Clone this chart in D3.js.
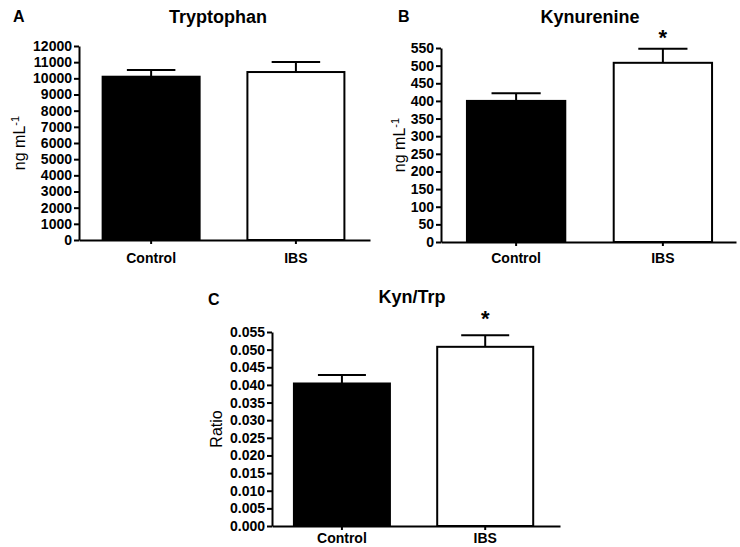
<!DOCTYPE html>
<html>
<head>
<meta charset="utf-8">
<script src="https://cdn.jsdelivr.net/npm/d3@7"></script>
<style>
  body { margin: 0; background: #fff; }
  text { font-family: Arial, "Liberation Sans", sans-serif; }
</style>
</head>
<body>
<div class="chart"></div>
<script>
const svgWidth = 740;
const svgHeight = 547;

// data
const groups = ["Control", "IBS"];

const trpMean = [10100, 10390];
const trpSem = [420, 620];
const trpTicks = d3.range(0, 12001, 1000);

const kynMean = [400, 508];
const kynSem = [22, 40];
const kynTicks = d3.range(0, 551, 50);

const ratioMean = [0.0404, 0.0508];
const ratioSem = [0.0024, 0.0033];
const ratioTicks = d3.range(0, 0.0551, 0.005);

const significant = [false, true];

// panel layout
const panels = [
  {
    letter: "A", title: "Tryptophan", ylabel: "ng mL", sup: "-1",
    mean: trpMean, sem: trpSem, ticks: trpTicks, fmt: d3.format("d"),
    left: 79, right: 370, top: 46, bottom: 240, align: 0.48,
    letterX: 13, letterY: 22, titleX: 218, titleY: 23, labelX: 25,
    catPad: 9, starGap: 5, showStar: false
  },
  {
    letter: "B", title: "Kynurenine", ylabel: "ng mL", sup: "-1",
    mean: kynMean, sem: kynSem, ticks: kynTicks, fmt: d3.format("d"),
    left: 441, right: 736, top: 48, bottom: 242, align: 0.52,
    letterX: 398, letterY: 22, titleX: 590, titleY: 23, labelX: 405,
    catPad: 7, starGap: 4, showStar: true
  },
  {
    letter: "C", title: "Kyn/Trp", ylabel: "Ratio", sup: null,
    mean: ratioMean, sem: ratioSem, ticks: ratioTicks, fmt: d3.format(".3f"),
    left: 272, right: 560, top: 332, bottom: 526, align: 0.45,
    letterX: 208, letterY: 305, titleX: 412, titleY: 303, labelX: 222,
    catPad: 3, starGap: 9, showStar: true
  }
];

const svg = d3.select(".chart")
  .append("svg")
  .attr("width", svgWidth)
  .attr("height", svgHeight);

panels.forEach(p => {
  const g = svg.append("g");

  const yScale = d3.scaleLinear()
    .domain([0, d3.max(p.ticks)])
    .range([p.bottom, p.top]);

  const xScale = d3.scaleBand()
    .domain(groups)
    .range([p.left, p.right])
    .paddingInner(0.33)
    .paddingOuter(0.17)
    .align(p.align);

  const bw = xScale.bandwidth();

  // bars
  g.selectAll("rect.bar")
    .data(groups)
    .enter()
    .append("rect")
    .attr("class", "bar")
    .attr("x", d => xScale(d))
    .attr("width", bw)
    .attr("y", (d, i) => yScale(p.mean[i]))
    .attr("height", (d, i) => yScale(0) - yScale(p.mean[i]))
    .attr("fill", (d, i) => i === 0 ? "#000" : "#fff")
    .attr("stroke", "#000")
    .attr("stroke-width", 2);

  // error bars (upper only)
  const err = g.selectAll("g.err")
    .data(groups)
    .enter()
    .append("g")
    .attr("class", "err")
    .attr("stroke", "#000")
    .attr("stroke-width", 2);

  err.append("line")
    .attr("x1", d => xScale(d) + bw / 2)
    .attr("x2", d => xScale(d) + bw / 2)
    .attr("y1", (d, i) => yScale(p.mean[i]))
    .attr("y2", (d, i) => yScale(p.mean[i] + p.sem[i]));

  err.append("line")
    .attr("x1", d => xScale(d) + bw / 4)
    .attr("x2", d => xScale(d) + bw * 3 / 4)
    .attr("y1", (d, i) => yScale(p.mean[i] + p.sem[i]))
    .attr("y2", (d, i) => yScale(p.mean[i] + p.sem[i]));

  // significance stars
  if (p.showStar) {
    g.selectAll("text.star")
      .data(groups.filter((d, i) => significant[i]))
      .enter()
      .append("text")
      .attr("class", "star")
      .attr("x", d => xScale(d) + bw / 2)
      .attr("y", d => {
        const i = groups.indexOf(d);
        return yScale(p.mean[i] + p.sem[i]) - p.starGap;
      })
      .attr("text-anchor", "middle")
      .attr("font-size", 22)
      .attr("font-weight", "bold")
      .text("*");
  }

  // y axis
  const yAxis = g.append("g")
    .attr("transform", `translate(${p.left},0)`)
    .call(d3.axisLeft(yScale)
      .tickValues(p.ticks)
      .tickFormat(p.fmt)
      .tickSize(5)
      .tickSizeOuter(0)
      .tickPadding(2));

  // x axis
  const xAxis = g.append("g")
    .attr("transform", `translate(0,${p.bottom})`)
    .call(d3.axisBottom(xScale)
      .tickSize(4)
      .tickSizeOuter(0)
      .tickPadding(p.catPad));

  [yAxis, xAxis].forEach(ax => {
    ax.select(".domain").attr("stroke", "#000").attr("stroke-width", 2);
    ax.selectAll(".tick line").attr("stroke", "#000").attr("stroke-width", 2);
    ax.selectAll("text")
      .attr("fill", "#000")
      .attr("font-weight", "bold")
      .attr("font-size", 14)
      .style("font-family", "Arial, 'Liberation Sans', sans-serif");
  });

  // y label
  const yl = g.append("text")
    .attr("transform", `translate(${p.labelX},${(p.top + p.bottom) / 2}) rotate(-90)`)
    .attr("text-anchor", "middle")
    .attr("font-size", 16)
    .text(p.ylabel);
  if (p.sup) {
    yl.append("tspan")
      .attr("baseline-shift", "super")
      .attr("font-size", 11)
      .text(p.sup);
  }

  // title and panel letter
  g.append("text")
    .attr("x", p.titleX)
    .attr("y", p.titleY)
    .attr("text-anchor", "middle")
    .attr("font-size", 18)
    .attr("font-weight", "bold")
    .text(p.title);

  g.append("text")
    .attr("x", p.letterX)
    .attr("y", p.letterY)
    .attr("font-size", 16)
    .attr("font-weight", "bold")
    .text(p.letter);
});
</script>
</body>
</html>
